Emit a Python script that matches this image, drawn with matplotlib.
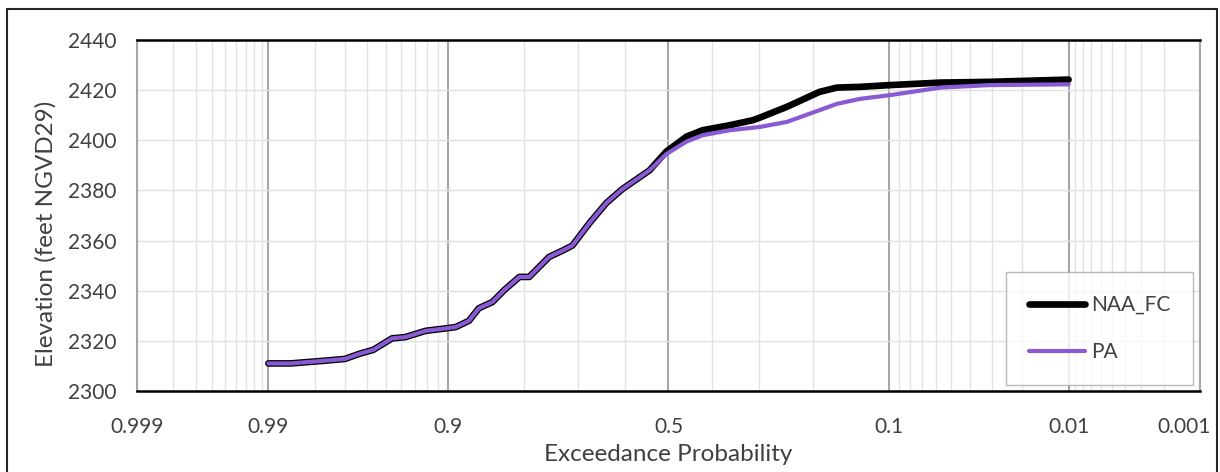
import numpy as np
import matplotlib
matplotlib.use("Agg")
import matplotlib.pyplot as plt
from matplotlib.ticker import FixedLocator, FixedFormatter, NullFormatter
from matplotlib.patches import Rectangle
from matplotlib.transforms import ScaledTranslation
from statistics import NormalDist

plt.rcParams['font.family'] = ['Lato', 'DejaVu Sans']

# ---- data ----
shared_p = [0.99, 0.986, 0.978, 0.970, 0.964, 0.957, 0.946, 0.937, 0.921, 0.902,
            0.892, 0.877, 0.865, 0.847, 0.830, 0.807, 0.791, 0.756, 0.731, 0.712,
            0.677, 0.641, 0.606, 0.544]
shared_elev = [2311, 2311, 2312, 2312.8, 2314.8, 2316.4, 2321, 2321.5, 2324, 2325,
               2325.5, 2328, 2333, 2335.5, 2340.3, 2345.5, 2345.5, 2353.5, 2356, 2358,
               2367, 2375, 2380.5, 2388]

upper_p = [0.505, 0.458, 0.4215, 0.361, 0.312, 0.298, 0.246, 0.190, 0.164, 0.133,
           0.099, 0.057, 0.031, 0.01]
naa_upper = [2395.5, 2401.5, 2404, 2406, 2408, 2409, 2413.3, 2419.3, 2421, 2421.3,
             2422, 2423, 2423.3, 2424.2]
pa_upper = [2394.5, 2399.5, 2402, 2404, 2405, 2405.3, 2407.3, 2412, 2414.5, 2416.5,
            2418, 2421, 2422, 2422.3]

series_names = ["NAA_FC", "PA"]

major_ticks = [0.999, 0.99, 0.9, 0.5, 0.1, 0.01, 0.001]
major_labels = ["0.999", "0.99", "0.9", "0.5", "0.1", "0.01", "0.001"]
minor_ticks = ([0.998, 0.997, 0.996, 0.995, 0.994, 0.993, 0.992, 0.991] +
               [0.98, 0.97, 0.96, 0.95, 0.94, 0.93, 0.92, 0.91] +
               [0.8, 0.7, 0.6, 0.4, 0.3, 0.2] +
               [0.09, 0.08, 0.07, 0.06, 0.05, 0.04, 0.03, 0.02] +
               [0.009, 0.008, 0.007, 0.006, 0.005, 0.004, 0.003, 0.002])
y_ticks = [2300, 2320, 2340, 2360, 2380, 2400, 2420, 2440]

naa_p = shared_p + upper_p
naa_elev = shared_elev + naa_upper
pa_p = shared_p + upper_p
pa_elev = shared_elev + pa_upper

# ---- normal probability scale ----
_nd = NormalDist()


def _fwd(p):
    p = np.clip(np.asarray(p, dtype=float), 1e-9, 1 - 1e-9)
    return np.array([_nd.inv_cdf(v) for v in p.ravel()]).reshape(p.shape)


def _inv(z):
    z = np.asarray(z, dtype=float)
    return np.array([_nd.cdf(v) for v in z.ravel()]).reshape(z.shape)


fig = plt.figure(figsize=(12.2, 4.72), dpi=100)
ax = fig.add_axes([0.1123, 0.1716, 0.8713, 0.7437])
ax.set_xscale('function', functions=(_fwd, _inv))

text_color = '#404040'

ax.plot(naa_p, naa_elev, color='black', lw=4.8, solid_capstyle='round',
        solid_joinstyle='round', label=series_names[0], zorder=3)
ax.plot(pa_p, pa_elev, color='#8A5AD4', lw=3.0, solid_capstyle='round',
        solid_joinstyle='round', label=series_names[1], zorder=4)

ax.set_xlim(0.999, 0.001)
ax.set_ylim(2300, 2440)

ax.xaxis.set_major_locator(FixedLocator(major_ticks))
ax.xaxis.set_major_formatter(FixedFormatter(major_labels))
ax.xaxis.set_minor_locator(FixedLocator(minor_ticks))
ax.xaxis.set_minor_formatter(NullFormatter())
ax.set_yticks(y_ticks)

ax.grid(True, which='major', axis='x', color='#a6a6a6', lw=1.5, zorder=1)
ax.grid(True, which='minor', axis='x', color='#e3e3e3', lw=1.0, zorder=0)
ax.grid(True, which='major', axis='y', color='#e0e0e0', lw=1.0, zorder=0)
ax.set_axisbelow(True)

ax.tick_params(axis='both', which='both', length=0, labelsize=15,
               labelcolor=text_color)
ax.tick_params(axis='x', pad=19)
ax.tick_params(axis='y', pad=15)

for side in ['top', 'bottom']:
    ax.spines[side].set_color('black')
    ax.spines[side].set_linewidth(1.8)
for side in ['left', 'right']:
    ax.spines[side].set_color('#a6a6a6')
    ax.spines[side].set_linewidth(1.5)

ax.set_xlabel('Exceedance Probability', fontsize=17.5, color=text_color, labelpad=5)
ax.set_ylabel('Elevation (feet NGVD29)', fontsize=17.5, color=text_color)
ax.yaxis.set_label_coords(-0.076, 0.447)

# shift the last x label inward so it stays inside the chart frame
fig.canvas.draw()
last_lbl = ax.get_xticklabels()[-1]
last_lbl.set_transform(last_lbl.get_transform() +
                       ScaledTranslation(-16 / 100, 0, fig.dpi_scale_trans))

leg = ax.legend(loc='lower right', bbox_to_anchor=(0.9934, 0.017), fontsize=15,
                frameon=True, fancybox=False, edgecolor='#a6a6a6',
                handlelength=2.7, handletextpad=0.25, labelspacing=1.3,
                borderpad=1.1, borderaxespad=0.0)
leg.get_frame().set_linewidth(1.0)
for t in leg.get_texts():
    t.set_color(text_color)

# outer chart border
fig.patches.append(Rectangle((7 / 1220, -0.01), (1217 - 7) / 1220, 1 - 9 / 472 + 0.01,
                             transform=fig.transFigure, fill=False,
                             edgecolor='#262626', lw=1.5, zorder=0))

fig.savefig('out.png', dpi=100)
